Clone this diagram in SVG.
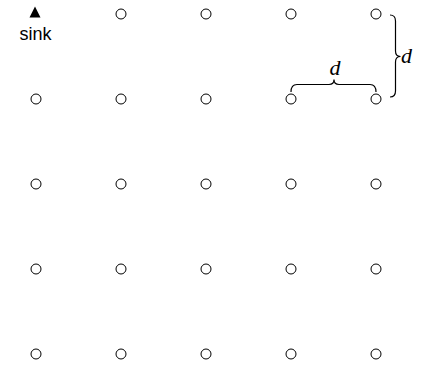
<svg xmlns="http://www.w3.org/2000/svg" width="422" height="369" viewBox="0 0 422 369">
<style>
.n{fill:#fff;stroke:#000;stroke-width:1}
.br{fill:none;stroke:#000;stroke-width:1.2}
.lbl{font-family:"Liberation Serif",serif;font-style:italic;font-size:22px;fill:#000}
.sk{font-family:"Liberation Sans",Arial,sans-serif;font-size:18px;fill:#000}
</style>
<rect width="422" height="369" fill="#fff"/>
<g id="sink">
<polygon points="35,6.5 29.5,17.5 40.5,17.5" fill="#000"/>
<text class="sk" x="35.5" y="40" text-anchor="middle">sink</text>
</g>
<g id="nodes">
<g id="n12"><circle class="n" cx="121" cy="14" r="5"/></g>
<g id="n13"><circle class="n" cx="206" cy="14" r="5"/></g>
<g id="n14"><circle class="n" cx="291" cy="14" r="5"/></g>
<g id="n15"><circle class="n" cx="376" cy="14" r="5"/></g>
<g id="n21"><circle class="n" cx="36" cy="99" r="5"/></g>
<g id="n22"><circle class="n" cx="121" cy="99" r="5"/></g>
<g id="n23"><circle class="n" cx="206" cy="99" r="5"/></g>
<g id="n24"><circle class="n" cx="291" cy="99" r="5"/></g>
<g id="n25"><circle class="n" cx="376" cy="99" r="5"/></g>
<g id="n31"><circle class="n" cx="36" cy="184" r="5"/></g>
<g id="n32"><circle class="n" cx="121" cy="184" r="5"/></g>
<g id="n33"><circle class="n" cx="206" cy="184" r="5"/></g>
<g id="n34"><circle class="n" cx="291" cy="184" r="5"/></g>
<g id="n35"><circle class="n" cx="376" cy="184" r="5"/></g>
<g id="n41"><circle class="n" cx="36" cy="269" r="5"/></g>
<g id="n42"><circle class="n" cx="121" cy="269" r="5"/></g>
<g id="n43"><circle class="n" cx="206" cy="269" r="5"/></g>
<g id="n44"><circle class="n" cx="291" cy="269" r="5"/></g>
<g id="n45"><circle class="n" cx="376" cy="269" r="5"/></g>
<g id="n51"><circle class="n" cx="36" cy="354" r="5"/></g>
<g id="n52"><circle class="n" cx="121" cy="354" r="5"/></g>
<g id="n53"><circle class="n" cx="206" cy="354" r="5"/></g>
<g id="n54"><circle class="n" cx="291" cy="354" r="5"/></g>
<g id="n55"><circle class="n" cx="376" cy="354" r="5"/></g>
</g>
<g id="connectors">
<path class="br" d="M291,92 Q291,84.5 297,84.5 L329,84.5 Q334,84.5 334,79.5 Q334,84.5 339,84.5 L370,84.5 Q376,84.5 376,92"/>
<path class="br" d="M390,15 Q395.5,15 395.5,21 L395.5,51 Q395.5,56.5 400.5,56.5 Q395.5,56.5 395.5,62 L395.5,91 Q395.5,97 390,97"/>
</g>
<g id="labels">
<text class="lbl" x="335" y="75" text-anchor="middle">d</text>
<text class="lbl" x="401" y="63">d</text>
</g>
</svg>
